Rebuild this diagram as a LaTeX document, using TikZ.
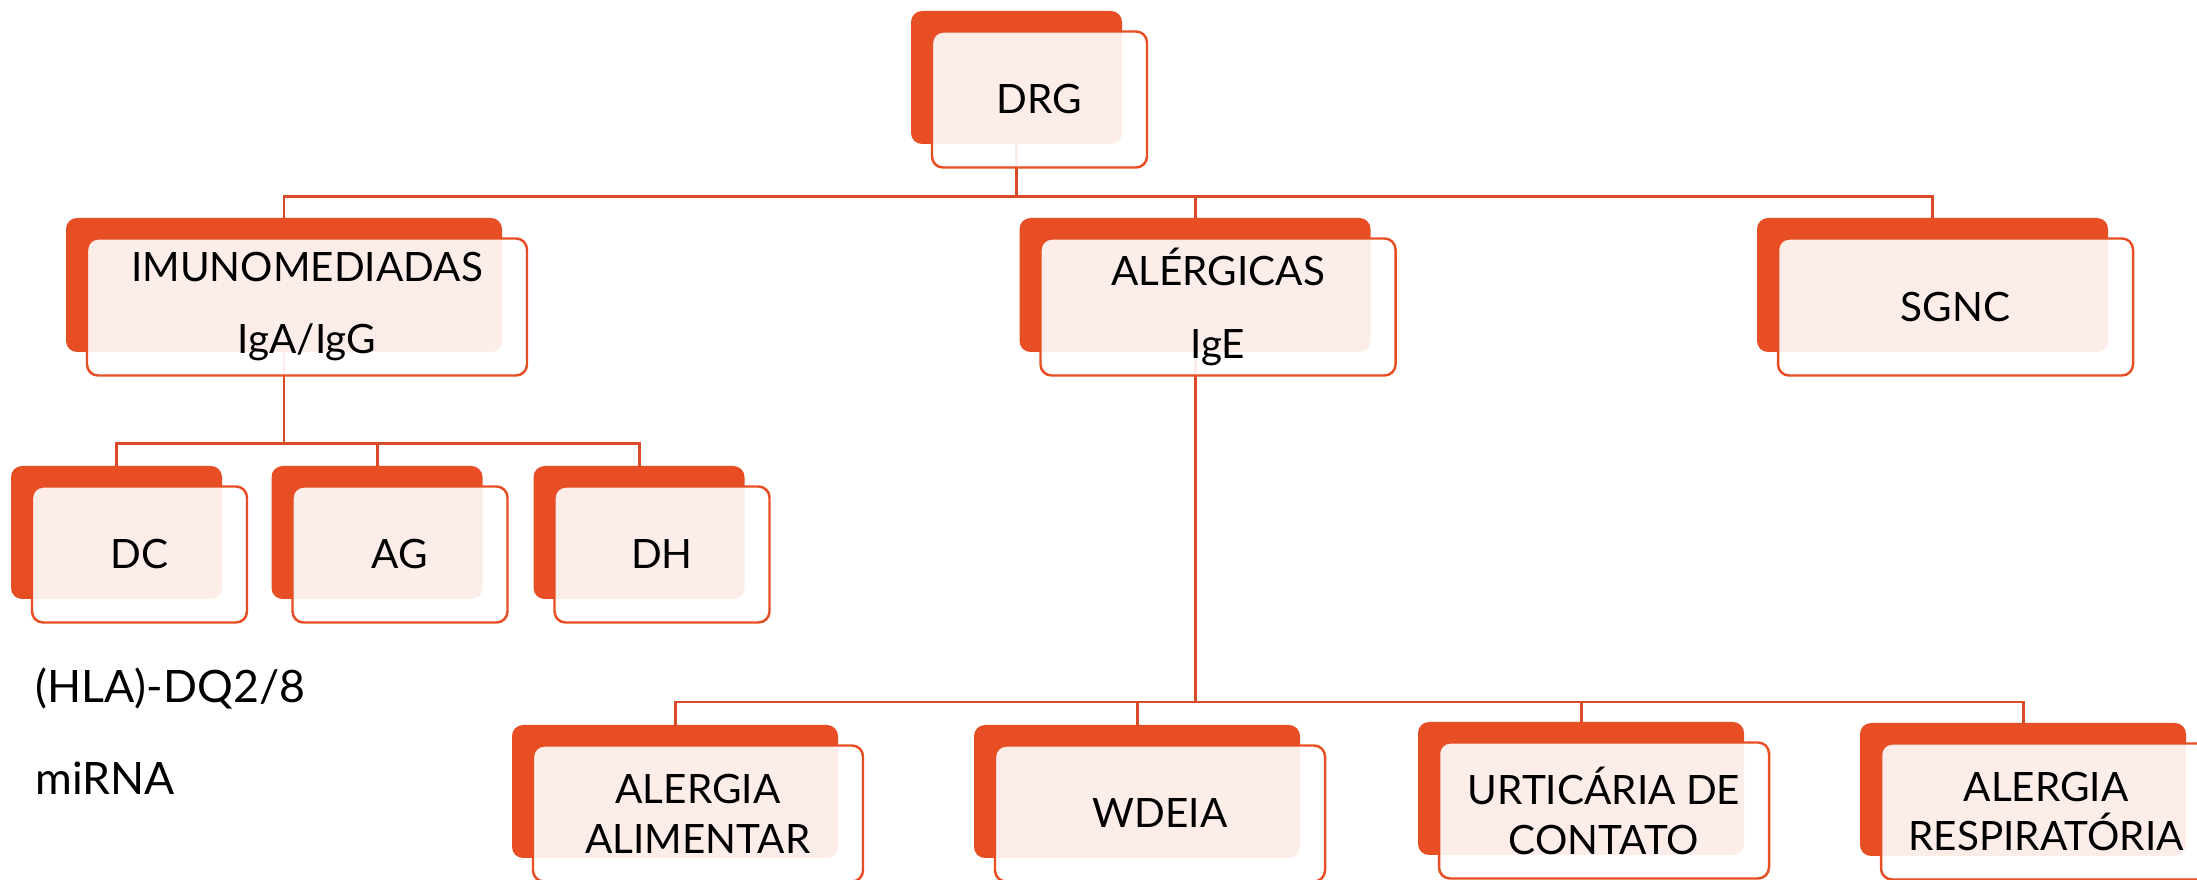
\documentclass[tikz,border=0pt]{standalone}
\usepackage{fontspec}
\setmainfont{Lato}
\usetikzlibrary{calc}
\definecolor{accfill}{HTML}{E84E24}
\definecolor{lineclr}{HTML}{D84A28}
\tikzset{
  backbox/.style={fill=accfill, draw=none, rounded corners=0.11cm, inner sep=0pt, outer sep=0pt},
  frontbox/.style={draw=accfill, line width=0.7pt, fill=white, fill opacity=0.9, text opacity=1,
    rounded corners=0.11cm, inner sep=0pt, outer sep=0pt, align=center,
    font=\fontsize{11.5}{14.2}\selectfont},
  wire/.style={draw=lineclr, line width=0.85pt},
  side/.style={anchor=base west, inner sep=0pt, font=\fontsize{12.7}{15}\selectfont}
}
\newcommand{\backat}[5]{\node[backbox, minimum width=#4*0.01cm, minimum height=#5*0.01cm] (#1) at (#2,#3) {};}
\newcommand{\frontat}[4]{\node[frontbox, minimum width=(#2+4)*0.01cm, minimum height=(#3+3)*0.01cm] (#1f) at ($(#1)+(23,22)$) {#4};}
\begin{document}
\begin{tikzpicture}[x=0.01cm, y=-0.01cm]
\useasboundingbox (0,0) rectangle (2197,880);
\clip (0,0) rectangle (2197,880);
% back boxes
\backat{drg}{1016.5}{77.5}{211}{133}
\backat{imu}{284}{285}{436}{134}
\backat{ale}{1195}{285}{351}{134}
\backat{sgn}{1932.5}{285}{351}{134}
\backat{dc}{116.5}{532.5}{211}{133}
\backat{ag}{377}{532.5}{211}{133}
\backat{dh}{639}{532.5}{211}{133}
\backat{aa}{675}{791.5}{326}{133}
\backat{wd}{1137}{791.5}{326}{133}
\backat{ur}{1581}{788.5}{326}{133}
\backat{ar}{2023}{789.5}{326}{133}
% buses
\coordinate (bus1) at (0,197);
\coordinate (bus2) at (0,444);
\coordinate (bus3) at (0,702);
% connectors
\draw[wire] (drg.south) -- (drg.south |- bus1) -| (imu.north);
\draw[wire] (drg.south |- bus1) -| (ale.north);
\draw[wire] (drg.south |- bus1) -| (sgn.north);
\draw[wire] (imu.south) -- (imu.south |- bus2) -| (dc.north);
\draw[wire] (imu.south |- bus2) -| (ag.north);
\draw[wire] (imu.south |- bus2) -| (dh.north);
\draw[wire] (ale.south) -- (ale.south |- bus3) -| (aa.north);
\draw[wire] (ale.south |- bus3) -| (wd.north);
\draw[wire] (ale.south |- bus3) -| (ur.north);
\draw[wire] (ale.south |- bus3) -| (ar.north);
% front boxes
\frontat{drg}{211}{133}{DRG}
\frontat{imu}{436}{134}{IMUNOMEDIADAS\\[6.3pt]IgA/IgG}
\frontat{ale}{351}{134}{ALÉRGICAS\\[6.3pt]IgE}
\frontat{sgn}{351}{134}{SGNC}
\frontat{dc}{211}{133}{DC}
\frontat{ag}{211}{133}{AG}
\frontat{dh}{211}{133}{DH}
\frontat{aa}{326}{133}{ALERGIA\\ALIMENTAR}
\frontat{wd}{326}{133}{WDEIA}
\frontat{ur}{326}{133}{URTICÁRIA DE\\CONTATO}
\frontat{ar}{326}{133}{ALERGIA\\RESPIRATÓRIA}
% side notes
\node[side] (hla) at (35,703) {(HLA)-DQ2/8};
\node[side] (mir) at (35,795) {miRNA};
\end{tikzpicture}
\end{document}
